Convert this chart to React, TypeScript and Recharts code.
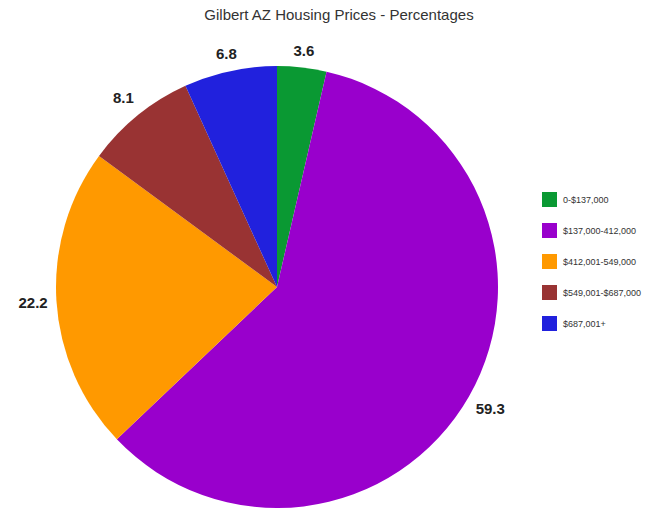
import { PieChart, Pie, Cell, Legend } from 'recharts';

const categories = ['0-$137,000', '$137,000-412,000', '$412,001-549,000', '$549,001-$687,000', '$687,001+'];
const percentages = [3.6, 59.3, 22.2, 8.1, 6.8];
const colors = ['#0a9933', '#9900cc', '#ff9900', '#993333', '#2121dd'];

const data = categories.map((name, i) => ({ name, value: percentages[i], color: colors[i] }));

const RADIAN = Math.PI / 180;

// label sits just outside the rim, pushed out by the half-extent of its text box
function renderLabel(props: any) {
  const { cx, cy, midAngle, outerRadius, value } = props;
  const cos = Math.cos(-midAngle * RADIAN);
  const sin = Math.sin(-midAngle * RADIAN);
  const r = outerRadius + 8 + Math.abs(cos) * 15 + Math.abs(sin) * 7;
  const x = cx + r * cos;
  const y = cy + r * sin;
  return (
    <text
      x={x}
      y={y}
      textAnchor="middle"
      dominantBaseline="central"
      fill="#222"
      fontSize={15}
      fontWeight="bold"
      fontFamily="'Liberation Sans', Arial, sans-serif"
    >
      {value.toFixed(1)}
    </text>
  );
}

function renderLegend() {
  return (
    <div style={{ fontFamily: "'Liberation Sans', Arial, sans-serif" }}>
      {data.map((entry) => (
        <div key={entry.name} style={{ display: 'flex', alignItems: 'center', height: 31 }}>
          <div style={{ width: 15, height: 15, background: entry.color, marginRight: 6 }} />
          <span style={{ fontSize: 9, color: '#333' }}>{entry.name}</span>
        </div>
      ))}
    </div>
  );
}

export default function App() {
  return (
    <div style={{ position: 'fixed', left: 0, top: 0, width: 670, height: 519, background: '#fff' }}>
      <div
        style={{
          position: 'absolute',
          left: 0,
          width: 678,
          top: 6,
          textAlign: 'center',
          fontFamily: "'Liberation Sans', Arial, sans-serif",
          fontSize: 15,
          color: '#333',
        }}
      >
        Gilbert AZ Housing Prices - Percentages
      </div>
      <PieChart width={670} height={519} margin={{ top: 0, right: 0, bottom: 0, left: 0 }}>
        <Pie
          data={data}
          dataKey="value"
          nameKey="name"
          cx={277}
          cy={287}
          outerRadius={221}
          startAngle={90}
          endAngle={-270}
          stroke="none"
          label={renderLabel}
          labelLine={false}
          isAnimationActive={false}
        >
          {data.map((entry, index) => (
            <Cell key={`cell-${index}`} fill={entry.color} />
          ))}
        </Pie>
        <Legend
          layout="vertical"
          content={renderLegend}
          wrapperStyle={{ left: 542, top: 184, width: 120 }}
        />
      </PieChart>
    </div>
  );
}
